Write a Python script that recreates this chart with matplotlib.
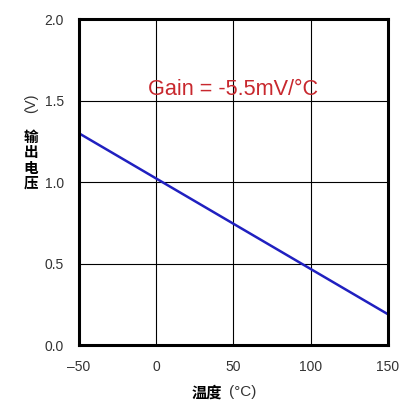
import matplotlib
matplotlib.use('Agg')
import matplotlib.pyplot as plt

# ── 数据 ──
temp_c = [-50, 150]
vout_v = [1.30, 0.19]
x_ticks = [-50, 0, 50, 100, 150]
y_ticks = [0.0, 0.5, 1.0, 1.5, 2.0]
gain_label = 'Gain = -5.5mV/°C'
ylabel_chars = ['输', '出', '电', '压']

CJK = 'Noto Sans CJK SC'
plt.rcParams['font.family'] = ['Liberation Sans', 'DejaVu Sans']

fig = plt.figure(figsize=(4.07, 4.08), dpi=100)
ax = fig.add_axes([0.194, 0.154, 0.759, 0.799])

ax.plot(temp_c, vout_v, color='#2020c0', lw=1.8, solid_capstyle='butt')

ax.set_xlim(-50, 150)
ax.set_ylim(0, 2.0)
ax.set_xticks(x_ticks)
ax.set_yticks(y_ticks)
ax.set_xticklabels([f'{t:d}'.replace('-', '\u2013') for t in x_ticks])
ax.set_yticklabels([f'{t:.1f}' for t in y_ticks])
ax.tick_params(length=0, labelsize=10, labelcolor='#333333')
ax.tick_params(axis='x', pad=11)
ax.tick_params(axis='y', pad=11)
ax.grid(True, color='black', lw=0.8)
for s in ax.spines.values():
    s.set_linewidth(2.2)
    s.set_color('black')

ax.text(50, 1.57, gain_label, color='#c8282e', fontsize=15.6,
        ha='center', va='center')

# y轴标签：(V) 旋转 + 竖排中文（逐字放置）
fig.text(0.076, 0.748, '(V)', rotation=90, ha='center', va='center',
         fontsize=10.5, color='#333333')
for i, ch in enumerate(ylabel_chars):
    fig.text(0.076, 0.664 - i * 0.0375, ch, ha='center', va='center',
             fontsize=10.5, fontweight='bold', family=CJK)

# x轴标签
fig.text(0.546, 0.038, '温度', ha='right', va='center', fontsize=11,
         fontweight='bold', family=CJK)
fig.text(0.562, 0.038, '(°C)', ha='left', va='center', fontsize=11,
         color='#333333')

fig.savefig('out.png', dpi=100)
